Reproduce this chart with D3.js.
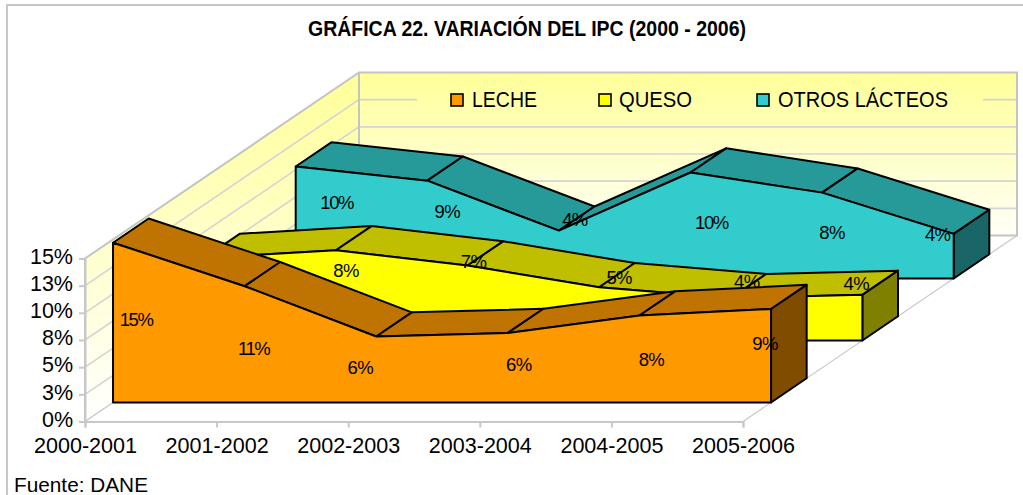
<!DOCTYPE html>
<html><head><meta charset="utf-8">
<script src="https://cdn.jsdelivr.net/npm/d3@7/dist/d3.min.js"></script>
<style>
html,body{margin:0;padding:0;background:#fff;}
svg{display:block;}
text{font-family:"Liberation Sans",Arial,sans-serif;fill:#000;}
</style></head><body>
<div id="chart"></div>
<script>
const chartTitle = "GRÁFICA 22. VARIACIÓN DEL IPC (2000 - 2006)";
const sourceNote = "Fuente: DANE";
const categories = ["2000-2001","2001-2002","2002-2003","2003-2004","2004-2005","2005-2006"];
const yTicks = [0,2.5,5,7.5,10,12.5,15];
const yTickLabels = ["0%","3%","5%","8%","10%","13%","15%"];
const seriesNames = ["LECHE","QUESO","OTROS LÁCTEOS"];
const leche = [14.7,10.7,6.07,6.4,8.0,8.6];
const queso = [7.6,8.3,6.9,4.9,3.9,4.2];
const otros = [10.3,9.0,4.4,9.75,7.9,4.1];

// Layout only: nudges of each data label from its point (Excel's own placement)
const lecheLabelDx = [23,9,-16,11,12,-6],  lecheLabelDy = [-3,4,-2,-3,1,-12];
const quesoLabelDx = [20,10,6,20,16,-6],   quesoLabelDy = [0,-25,-41.5,-36.5,-38,-34];
const otrosLabelDx = [41,20,16,21,10,-16], otrosLabelDy = [-20,-18,-35,-3,-3,-22];

const W=1023,H=495;
const svg=d3.select("#chart").append("svg").attr("width",W).attr("height",H);
const defs=svg.append("defs");
function grad(id,y1,y2,c1,c2){
  const g=defs.append("linearGradient").attr("id",id).attr("gradientUnits","userSpaceOnUse")
    .attr("x1",0).attr("x2",0).attr("y1",y1).attr("y2",y2);
  g.append("stop").attr("offset",0).attr("stop-color",c1);
  g.append("stop").attr("offset",1).attr("stop-color",c2);
}
const floorY=421.5, wallH=163, depthDX=274, depthDY=-186;
const x=d3.scalePoint(categories,[85,743]);
const yFront=d3.scaleLinear([0,15],[floorY,floorY-wallH]);
const dX=d3.scaleLinear([0,3],[0,depthDX]);
const dY=d3.scaleLinear([0,3],[0,depthDY]);
const P=(cat,v,d)=>[x(cat)+dX(d),yFront(v)+dY(d)];
const line=d3.line();
const poly=pts=>line(pts)+"Z";

// chart frame
svg.append("path").attr("d","M7,"+H+"V5H"+W).attr("fill","none").attr("stroke","#c8c8c8").attr("stroke-width",2);

// title
svg.append("text").attr("x",308).attr("y",36).attr("font-size",22).attr("font-weight","bold")
  .attr("textLength",438).attr("lengthAdjust","spacingAndGlyphs").text(chartTitle);

// walls
grad("wallBack",yFront(15)+depthDY,yFront(0)+depthDY,"#ffff99","#fffff8");
grad("wallSide",yFront(15)+depthDY,yFront(0),"#ffff99","#ffffff");
const c0=categories[0],c5=categories[5];
svg.append("path").attr("d",poly([P(c0,0,0),P(c0,15,0),P(c0,15,3),P(c0,0,3)])).attr("fill","url(#wallSide)");
svg.append("path").attr("d",poly([P(c0,0,3),P(c0,15,3),P(c5,15,3),P(c5,0,3)])).attr("fill","url(#wallBack)");
// gridlines
const grid=svg.append("g").attr("fill","none").attr("stroke","#d4d4d4").attr("stroke-width",1.6);
yTicks.slice(1,-1).forEach(t=>{
  grid.append("path").attr("d",line([P(c0,t,0),P(c0,t,3),P(c5,t,3)]));
});
// floor edges
svg.append("path").attr("d",line([P(c0,0,0),P(c0,0,3)])).attr("stroke","#c8c8c8").attr("stroke-width",1.5).attr("fill","none");
svg.append("path").attr("d",line([P(c5,0,0),P(c5,0,3)])).attr("stroke","#c8c8c8").attr("stroke-width",1.2).attr("fill","none");
// wall outlines
svg.append("path").attr("d",line([P(c0,0,0),P(c0,15,0),P(c0,15,3),P(c5,15,3),P(c5,0,3),P(c0,0,3),P(c0,15,3)]))
  .attr("fill","none").attr("stroke","#c4c4c4").attr("stroke-width",2);

// axes
const xAxis=svg.append("g").attr("transform",`translate(0,${floorY})`)
  .call(d3.axisBottom(x).tickSize(6).tickPadding(10));
const yAxis=svg.append("g").attr("transform","translate(85,0)")
  .call(d3.axisLeft(yFront).tickValues(yTicks).tickFormat((d,i)=>yTickLabels[i]).tickSize(6).tickPadding(6));
[xAxis,yAxis].forEach(a=>{
  a.selectAll(".domain,.tick line").attr("stroke","#c8c8c8").attr("stroke-width",2);
  a.selectAll("text").attr("font-size",21.5).attr("fill","#000").style("font-family",'"Liberation Sans",Arial,sans-serif');
});
xAxis.selectAll("text").attr("textLength",103).attr("lengthAdjust","spacingAndGlyphs");
yAxis.selectAll("text").attr("dy","0.22em");

// series, painted back to front
const inset=0.307, thick=0.39;
const allSeries=[
 {name:seriesNames[2],vals:otros,idx:2,front:"#33cccc",top:"#269999",side:"#1a6666",ldx:otrosLabelDx,ldy:otrosLabelDy},
 {name:seriesNames[1],vals:queso,idx:1,front:"#ffff00",top:"#bfbf00",side:"#808000",ldx:quesoLabelDx,ldy:quesoLabelDy},
 {name:seriesNames[0],vals:leche,idx:0,front:"#ff9900",top:"#bf7300",side:"#804d00",ldx:lecheLabelDx,ldy:lecheLabelDy}
];
const pct=d3.format(".0%");
allSeries.forEach(s=>{
  const df=s.idx+inset, db=df+thick;
  const g=svg.append("g").attr("stroke","#000").attr("stroke-width",2).attr("stroke-linejoin","round");
  // top faces
  d3.pairs(s.vals.map((v,i)=>[categories[i],v])).forEach(([a,b])=>{
    g.append("path").attr("d",poly([P(a[0],a[1],df),P(b[0],b[1],df),P(b[0],b[1],db),P(a[0],a[1],db)])).attr("fill",s.top);
  });
  // end face
  const last=s.vals.length-1, cl=categories[last], vl=s.vals[last];
  g.append("path").attr("d",poly([P(cl,0,df),P(cl,vl,df),P(cl,vl,db),P(cl,0,db)])).attr("fill",s.side);
  // front face
  const pts=s.vals.map((v,i)=>P(categories[i],v,df));
  g.append("path").attr("d",poly([P(c0,0,df),...pts,P(cl,0,df)])).attr("fill",s.front);
  // data labels travel with their series, so nearer series can cover them
  const lab=svg.append("g");
  s.vals.forEach((v,i)=>{
    const p=P(categories[i],v,df), b=P(categories[i],0,df);
    const t=pct(v/100);
    lab.append("text").attr("x",p[0]+s.ldx[i]).attr("y",(p[1]+b[1])/2+s.ldy[i]+6.5)
      .attr("text-anchor","middle").attr("font-size",18.5).attr("letter-spacing",t.length>2?-1.4:-0.6)
      .attr("fill","#111").text(t);
  });
});

// legend
svg.append("rect").attr("x",417).attr("width",566).attr("y",yFront(12.5)+depthDY-14)
  .attr("height",28).attr("fill","url(#wallBack)");
const legendX=[451,599,757], legendTextX=[472,619,778], legendW=[65,73,170];
[0,1,2].forEach(i=>{
  const s=allSeries[2-i];
  svg.append("rect").attr("x",legendX[i]).attr("y",94).attr("width",12).attr("height",12)
    .attr("fill",s.front).attr("stroke","#000").attr("stroke-width",1.6);
  svg.append("text").attr("x",legendTextX[i]).attr("y",107).attr("font-size",22)
    .attr("textLength",legendW[i]).attr("lengthAdjust","spacingAndGlyphs").text(seriesNames[i]);
});

// source
svg.append("text").attr("x",14).attr("y",492).attr("font-size",21).attr("textLength",134)
  .attr("lengthAdjust","spacingAndGlyphs").text(sourceNote);
</script>
</body></html>
